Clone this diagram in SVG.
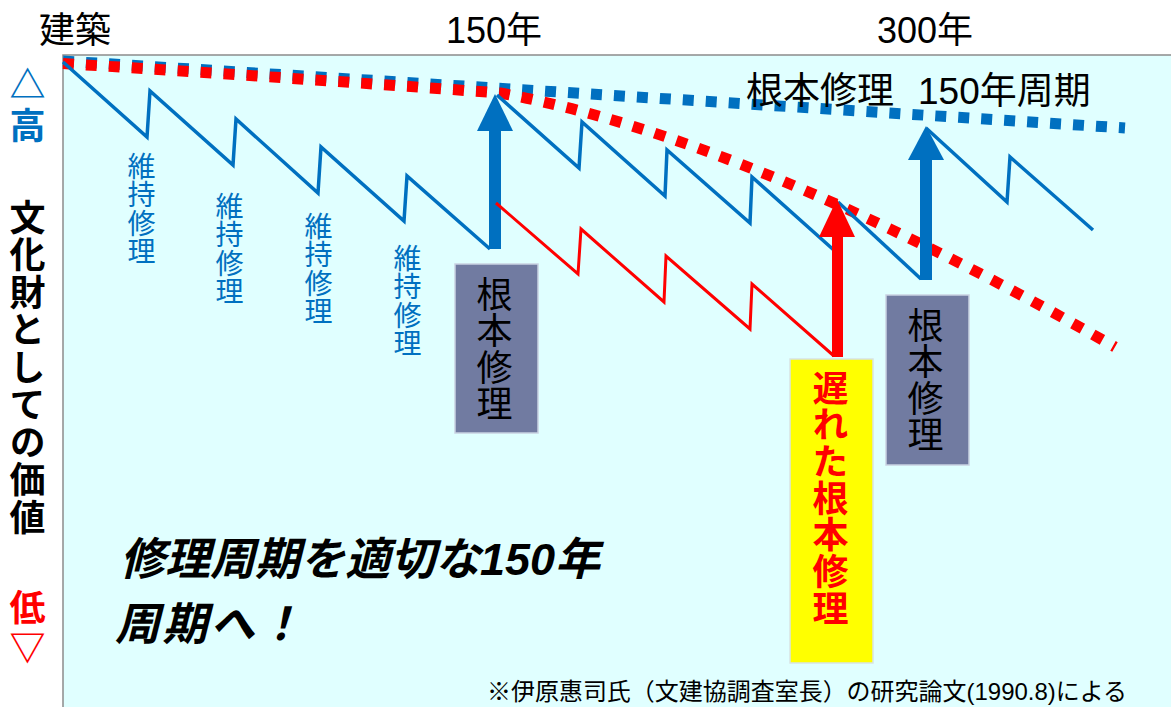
<svg xmlns="http://www.w3.org/2000/svg" width="1171" height="707" viewBox="0 0 1171 707">
<style>
text{font-family:"Liberation Sans","Noto Sans CJK JP",sans-serif}
.v{writing-mode:vertical-rl}
.lbl{font-size:36px;fill:#000}
.axis{font-size:36px;font-weight:bold}
.box{fill:#717BA1;stroke:#C9D2E2;stroke-width:1.5}
.ybox{fill:#FFFF00;stroke:#D8E4E4;stroke-width:1.5}
.bt{font-size:36px;fill:#000;letter-spacing:0.5px}
.yt{font-size:36px;font-weight:bold;fill:#FF0000;letter-spacing:0.67px}
.mt{font-size:28px;fill:#0070C0;letter-spacing:0.5px}
.saw{fill:none;stroke:#0070C0;stroke-width:3.5;stroke-linejoin:miter}
.rsaw{fill:none;stroke:#FF0000;stroke-width:3}
.dotb{fill:none;stroke:#0070C0;stroke-width:11;stroke-dasharray:11 12}
.dotr{fill:none;stroke:#FF0000;stroke-width:11;stroke-dasharray:11 12}
</style>
<rect x="0" y="0" width="1171" height="707" fill="#FFFFFF"/>
<rect id="chart-area" x="63" y="55" width="1120" height="660" fill="#E0FFFF" stroke="#8C8C8C" stroke-width="1.5"/>

<g id="top-labels">
<text class="lbl" x="39" y="43">建築</text>
<text class="lbl" x="446" y="43">150年</text>
<text class="lbl" x="877" y="43">300年</text>
</g>

<g id="axis-label">
<text class="axis v" x="24" y="66" fill="#0070C0" style="letter-spacing:5px">△高</text>
<text class="axis v" x="24" y="199" fill="#000" style="letter-spacing:1.5px">文化財としての価値</text>
<text class="axis v" x="24" y="589" fill="#FF0000" style="letter-spacing:4px">低▽</text>
</g>

<g id="connectors">
<path class="dotb" d="M63,61 Q594,94 1125,128"/>
<path class="dotr" d="M63,63.5 Q280,77 500,93 Q748,138 1115,347"/>
<polyline class="saw" points="63,62 147,137 150,91 233,165 236,119 318,193 321,147 404,221 407,176 490,249"/>
<g id="arrow-blue-1" fill="#0070C0">
<rect x="489" y="129" width="12" height="120"/>
<polygon points="477,131 513,131 495,94"/>
</g>
<polyline class="saw" points="497,95 579,168 582,122 665,196 667,150 750,223 752,177 836,252"/>
<polyline class="saw" points="838,202 921,279"/>
<polyline class="rsaw" points="496,203 578,274 581,229 664,302 666,256 750,329 752,284 834,356"/>
<g id="arrow-red" fill="#FF0000">
<rect x="832" y="235" width="11" height="122"/>
<polygon points="819,237 855,237 837,199"/>
</g>
<g id="arrow-blue-2" fill="#0070C0">
<rect x="920" y="158" width="12" height="122"/>
<polygon points="908,160 944,160 926,126"/>
</g>
<polyline class="saw" points="926,128 1007,202 1010,157 1093,230"/>
</g>

<g id="cycle-label">
<text class="lbl" x="746" y="104" style="font-size:37px">根本修理<tspan x="918">150年周期</tspan></text>
</g>

<g id="maint-1"><text class="mt v" x="139" y="152">維持修理</text></g>
<g id="maint-2"><text class="mt v" x="227" y="192">維持修理</text></g>
<g id="maint-3"><text class="mt v" x="316" y="212">維持修理</text></g>
<g id="maint-4"><text class="mt v" x="405" y="244">維持修理</text></g>

<g id="box-repair-1">
<rect class="box" x="455" y="264" width="83" height="169"/>
<text class="bt v" x="491" y="276">根本修理</text>
</g>
<g id="box-repair-late">
<rect class="ybox" x="790" y="359" width="83" height="304"/>
<text class="yt v" x="827" y="370">遅れた根本修理</text>
</g>
<g id="box-repair-2">
<rect class="box" x="886" y="295" width="83" height="170"/>
<text class="bt v" x="922" y="307">根本修理</text>
</g>

<g id="message">
<text font-size="45" font-weight="bold" font-style="italic" fill="#000"><tspan x="120" y="575">修理周期を適切な150年</tspan><tspan x="115" y="640" letter-spacing="2.5">周期へ！</tspan></text>
</g>

<g id="footnote">
<text x="487" y="700" font-size="24" fill="#000" textLength="640" lengthAdjust="spacingAndGlyphs">※伊原惠司氏（文建協調査室長）の研究論文(1990.8)による</text>
</g>
</svg>
